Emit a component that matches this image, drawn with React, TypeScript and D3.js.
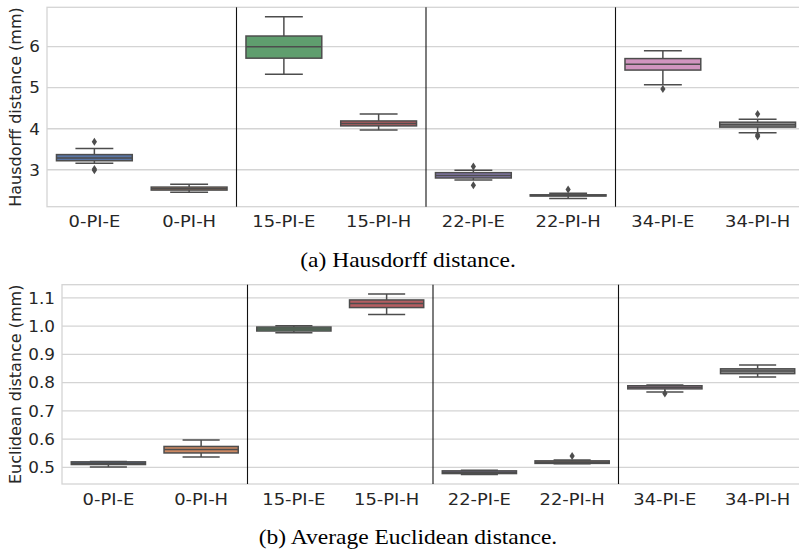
import * as d3 from 'd3';

// categories shared by both panels
const categories = ['0-PI-E', '0-PI-H', '15-PI-E', '15-PI-H', '22-PI-E', '22-PI-H', '34-PI-E', '34-PI-H'];
const boxColors = ['#5975a4', '#cc8963', '#5f9e6e', '#b55d60', '#857aab', '#8d7866', '#d095bf', '#8c8c8c'];

// (a) Hausdorff distance, box stats per category
const hdWhiskLow = [3.16, 2.45, 5.33, 3.97, 2.75, 2.30, 5.07, 3.90];
const hdQ1 = [3.22, 2.505, 5.72, 4.07, 2.80, 2.36, 5.43, 4.04];
const hdMedian = [3.29, 2.54, 6.00, 4.13, 2.86, 2.375, 5.57, 4.10];
const hdQ3 = [3.37, 2.578, 6.26, 4.19, 2.93, 2.39, 5.71, 4.16];
const hdWhiskHigh = [3.52, 2.65, 6.73, 4.36, 2.99, 2.43, 5.90, 4.23];
const hdOutliers = [[3.68, 3.02, 2.99], [], [], [], [3.08, 2.62], [2.52], [4.97], [4.36, 3.85, 3.81]];
const hdTicks = [3, 4, 5, 6];

// (b) Average Euclidean distance
const edWhiskLow = [0.5015, 0.537, 0.977, 1.041, 0.475, 0.5125, 0.7667, 0.820];
const edQ1 = [0.510, 0.551, 0.983, 1.066, 0.478, 0.514, 0.778, 0.832];
const edMedian = [0.5145, 0.5635, 0.990, 1.080, 0.4825, 0.518, 0.7835, 0.841];
const edQ3 = [0.5195, 0.574, 0.997, 1.093, 0.4876, 0.523, 0.789, 0.849];
const edWhiskHigh = [0.521, 0.5965, 1.002, 1.114, 0.490, 0.526, 0.7915, 0.8624];
const edOutliers = [[], [], [], [], [], [0.540], [0.762], []];
const edTicks = [0.5, 0.6, 0.7, 0.8, 0.9, 1.0, 1.1];

const FONT = 'DejaVu Sans, sans-serif';
const TEXT = '#262626';
const LINE = '#4d4d4d';
const GRID = '#d4d4d4';
const STRETCH = 1.12;

interface PanelProps {
    left: number;
    right: number;
    top: number;
    bottom: number;
    domain: [number, number];
    ticks: number[];
    tickFormat: (v: number) => string;
    yLabel: string;
    whiskLow: number[];
    q1: number[];
    median: number[];
    q3: number[];
    whiskHigh: number[];
    outliers: number[][];
}

function BoxPanel(p: PanelProps) {
    const x = d3.scaleBand<string>().domain(categories).range([p.left, p.right]);
    const y = d3.scaleLinear().domain(p.domain).range([p.bottom, p.top]);
    const bw = x.bandwidth();
    const boxW = bw * 0.8;
    const capW = boxW / 2;
    const diamond = (cx: number, cy: number) =>
        `M${cx},${cy - 4}L${cx + 2.6},${cy}L${cx},${cy + 4}L${cx - 2.6},${cy}Z`;

    return (
        <g>
            {/* grid */}
            {p.ticks.map(t => (
                <line key={'g' + t} x1={p.left} x2={p.right} y1={y(t)} y2={y(t)} stroke={GRID} strokeWidth={1.3} />
            ))}
            {/* spines */}
            <rect x={p.left} y={p.top} width={p.right - p.left} height={p.bottom - p.top} fill="none" stroke={GRID} strokeWidth={1.3} />

            {/* separators between groups */}
            {[2, 4, 6].map(i => (
                <line key={'s' + i} x1={x(categories[i])} x2={x(categories[i])} y1={p.top} y2={p.bottom} stroke="#111" strokeWidth={1.1} />
            ))}

            {categories.map((c, i) => {
                const cx = (x(c) as number) + bw / 2;
                return (
                    <g key={c}>
                        <line x1={cx} x2={cx} y1={y(p.whiskHigh[i])} y2={y(p.q3[i])} stroke={LINE} strokeWidth={1.5} />
                        <line x1={cx} x2={cx} y1={y(p.q1[i])} y2={y(p.whiskLow[i])} stroke={LINE} strokeWidth={1.5} />
                        <line x1={cx - capW / 2} x2={cx + capW / 2} y1={y(p.whiskHigh[i])} y2={y(p.whiskHigh[i])} stroke={LINE} strokeWidth={1.5} />
                        <line x1={cx - capW / 2} x2={cx + capW / 2} y1={y(p.whiskLow[i])} y2={y(p.whiskLow[i])} stroke={LINE} strokeWidth={1.5} />
                        <rect x={cx - boxW / 2} y={y(p.q3[i])} width={boxW} height={Math.max(0.5, y(p.q1[i]) - y(p.q3[i]))}
                            fill={boxColors[i]} stroke={LINE} strokeWidth={1.5} />
                        <line x1={cx - boxW / 2} x2={cx + boxW / 2} y1={y(p.median[i])} y2={y(p.median[i])} stroke={LINE} strokeWidth={1.5} />
                        {p.outliers[i].map((o, k) => (
                            <path key={k} d={diamond(cx, y(o))} fill={LINE} />
                        ))}
                        <text transform={`translate(${cx},${p.bottom + 20.5}) scale(${STRETCH},1)`} textAnchor="middle"
                            fontFamily={FONT} fontSize={16} fill={TEXT}>{c}</text>
                    </g>
                );
            })}

            {/* y ticks */}
            {p.ticks.map(t => (
                <text key={'t' + t} transform={`translate(${p.left - 7},${y(t)}) scale(1.05,1)`} dy="0.36em" textAnchor="end"
                    fontFamily={FONT} fontSize={16} fill={TEXT}>{p.tickFormat(t)}</text>
            ))}
            <text transform={`translate(15.5,${(p.top + p.bottom) / 2}) rotate(-90)`} dy="0.36em" textAnchor="middle"
                fontFamily={FONT} fontSize={16} fill={TEXT}>{p.yLabel}</text>
        </g>
    );
}

export default function App() {
    const width = 799;
    const height = 552;
    return (
        <svg width={width} height={height} style={{ position: 'absolute', left: 0, top: 0, background: '#fff' }}>
            <BoxPanel left={47} right={805} top={7.3} bottom={206.7} domain={[2.10, 6.96]} ticks={hdTicks}
                tickFormat={d3.format('d')} yLabel="Hausdorff distance (mm)"
                whiskLow={hdWhiskLow} q1={hdQ1} median={hdMedian} q3={hdQ3} whiskHigh={hdWhiskHigh} outliers={hdOutliers} />
            <text transform={`translate(408,267) scale(${STRETCH},1)`} textAnchor="middle" fontFamily="Liberation Serif, serif"
                fontSize={21} fill="#000">(a) Hausdorff distance.</text>

            <BoxPanel left={62} right={804} top={284.7} bottom={484} domain={[0.441, 1.147]} ticks={edTicks}
                tickFormat={d3.format('.1f')} yLabel="Euclidean distance (mm)"
                whiskLow={edWhiskLow} q1={edQ1} median={edMedian} q3={edQ3} whiskHigh={edWhiskHigh} outliers={edOutliers} />
            <text transform={`translate(408,544) scale(${STRETCH},1)`} textAnchor="middle" fontFamily="Liberation Serif, serif"
                fontSize={21} fill="#000">(b) Average Euclidean distance.</text>
        </svg>
    );
}
